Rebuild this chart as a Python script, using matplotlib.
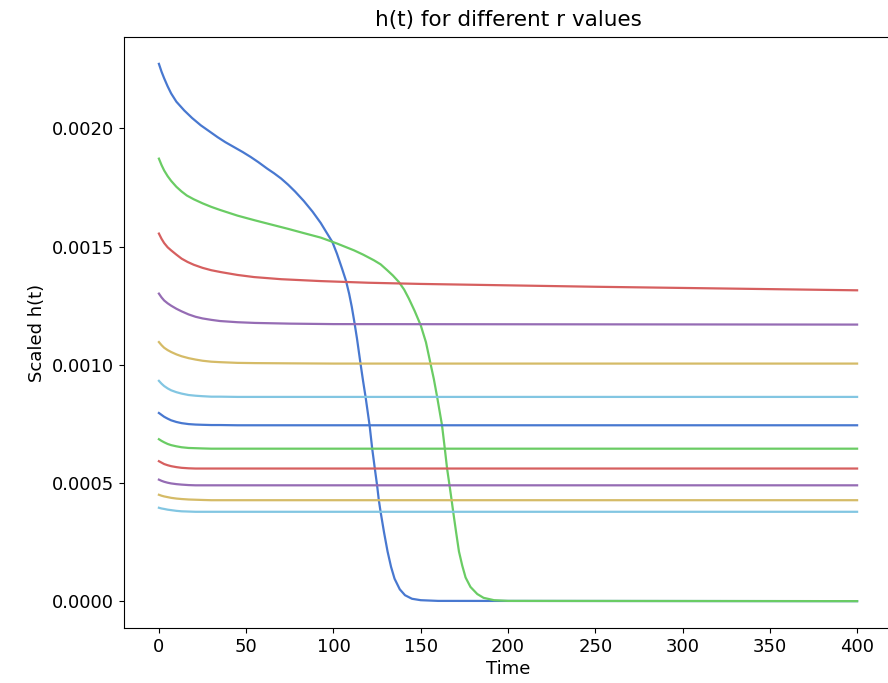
import matplotlib
matplotlib.use("Agg")
import matplotlib.pyplot as plt

# Colours (seaborn "muted" colour codes b, g, r, m, y, c)
colors = ["#4878D0", "#6ACC64", "#D65F5F", "#956CB4", "#D5BB67", "#82C6E2"]

# Series 1 (blue, steep drop ~120)
t1 = [0, 1.5, 3, 5, 7, 10, 14.5, 19, 24, 29, 33.6, 38, 43, 48, 52.6, 57, 62, 66,
      70, 74, 78, 83, 88, 92.7, 96, 99.4, 102, 105, 107.2, 109, 110.5, 112, 113.5,
      115.5, 117, 118.4, 120.7, 122.2, 123.7, 125, 126, 127, 129, 131, 133, 135,
      138, 141, 145, 150, 160, 400]
h1 = [0.002273, 0.002240, 0.002212, 0.002178, 0.002148, 0.002113, 0.002076,
      0.002044, 0.002013, 0.001987, 0.001963, 0.001942, 0.001921, 0.001900,
      0.001879, 0.001857, 0.001830, 0.001810, 0.001788, 0.001762, 0.001733,
      0.001693, 0.001648, 0.001600, 0.001560, 0.001519, 0.001470, 0.001405,
      0.001355, 0.001300, 0.001245, 0.001180, 0.001110, 0.001005, 0.000930,
      0.000864, 0.000744, 0.000645, 0.000561, 0.000490, 0.000427, 0.000378,
      0.000290, 0.000210, 0.000145, 0.000095, 0.000050, 0.000025, 0.000010,
      0.000004, 0.000001, 0.0]

# Series 2 (green, steep drop ~165)
t2 = [0, 1.5, 3, 5, 7, 10, 13, 16, 20, 25, 30, 35, 45, 55, 65, 74, 83, 92.7, 102,
      111.8, 117, 123.2, 127, 130.8, 134, 137.5, 140.5, 143.2, 146.5, 150, 153,
      155.6, 157.5, 159.4, 162.2, 163.8, 165.1, 166.5, 167.7, 168.6, 170.3, 171.9,
      173.8, 175.7, 178.5, 182.4, 186, 192, 200, 400]
h2 = [0.001872, 0.001845, 0.001822, 0.001798, 0.001778, 0.001753, 0.001733,
      0.001716, 0.001700, 0.001683, 0.001668, 0.001655, 0.001631, 0.001611,
      0.001592, 0.001575, 0.001557, 0.001538, 0.001513, 0.001484, 0.001466,
      0.001442, 0.001425, 0.001400, 0.001378, 0.001350, 0.001318, 0.001280,
      0.001228, 0.001167, 0.001095, 0.001005, 0.000940, 0.000864, 0.000744,
      0.000645, 0.000561, 0.000490, 0.000427, 0.000378, 0.000290, 0.000210,
      0.000150, 0.000100, 0.000060, 0.000030, 0.000014, 0.000004, 0.000001, 0.0]

# Series 3 (red, slow decay)
t3 = [0, 1.5, 3, 5, 7, 10, 13, 16.4, 20, 25, 30, 35.5, 45, 54.5, 70, 92.7, 120,
      150, 200, 250, 300, 350, 400]
h3 = [0.001555, 0.001533, 0.001515, 0.001497, 0.001484, 0.001466, 0.001449,
      0.001435, 0.001423, 0.001410, 0.001400, 0.001392, 0.001380, 0.001371,
      0.001362, 0.001354, 0.001347, 0.001342, 0.001336, 0.001330, 0.001325,
      0.001320, 0.001315]

# Flat series share a time grid
t_flat = [0, 1.5, 3, 5, 7, 10, 13, 17, 21, 25, 30, 35, 45, 55, 75, 100, 400]
h4 = [0.001301, 0.001285, 0.001272, 0.001260, 0.001250, 0.001237, 0.001226,
      0.001213, 0.001203, 0.001196, 0.001190, 0.001185, 0.001180, 0.001177,
      0.001174, 0.001172, 0.001170]
h5 = [0.001096, 0.001083, 0.001072, 0.001062, 0.001054, 0.001044, 0.001036,
      0.001028, 0.001022, 0.001017, 0.001013, 0.001011, 0.001008, 0.001007,
      0.001006, 0.001005, 0.001005]
h6 = [0.000932, 0.000920, 0.000910, 0.000900, 0.000892, 0.000884, 0.000878,
      0.000872, 0.000869, 0.000867, 0.000865, 0.000865, 0.000864, 0.000864,
      0.000864, 0.000864, 0.000864]
h7 = [0.000796, 0.000788, 0.000780, 0.000772, 0.000765, 0.000758, 0.000753,
      0.000749, 0.000747, 0.000746, 0.000745, 0.000745, 0.000744, 0.000744,
      0.000744, 0.000744, 0.000744]
h8 = [0.000685, 0.000678, 0.000672, 0.000665, 0.000660, 0.000655, 0.000651,
      0.000648, 0.000647, 0.000646, 0.000645, 0.000645, 0.000645, 0.000645,
      0.000645, 0.000645, 0.000645]
h9 = [0.000592, 0.000586, 0.000580, 0.000575, 0.000571, 0.000567, 0.000564,
      0.000562, 0.000561, 0.000561, 0.000561, 0.000561, 0.000561, 0.000561,
      0.000561, 0.000561, 0.000561]
h10 = [0.000514, 0.000509, 0.000505, 0.000501, 0.000498, 0.000495, 0.000493,
       0.000491, 0.000490, 0.000490, 0.000490, 0.000490, 0.000490, 0.000490,
       0.000490, 0.000490, 0.000490]
h11 = [0.000450, 0.000446, 0.000443, 0.000440, 0.000437, 0.000434, 0.000432,
       0.000430, 0.000429, 0.000428, 0.000427, 0.000427, 0.000427, 0.000427,
       0.000427, 0.000427, 0.000427]
h12 = [0.000395, 0.000392, 0.000390, 0.000387, 0.000385, 0.000382, 0.000380,
       0.000379, 0.000378, 0.000378, 0.000378, 0.000378, 0.000378, 0.000378,
       0.000378, 0.000378, 0.000378]

series = [(t1, h1), (t2, h2), (t3, h3), (t_flat, h4), (t_flat, h5), (t_flat, h6),
          (t_flat, h7), (t_flat, h8), (t_flat, h9), (t_flat, h10), (t_flat, h11),
          (t_flat, h12)]

fig = plt.figure(figsize=(8.88, 6.83), dpi=100)
ax = fig.add_axes([124 / 888, 55 / 683, 768 / 888, 591 / 683])

for i, (t, h) in enumerate(series):
    ax.plot(t, h, color=colors[i % len(colors)], linewidth=1.6)

ax.set_title("h(t) for different r values", fontsize=15.5, pad=8)
ax.set_xlabel("Time", fontsize=13, labelpad=3)
ax.set_ylabel("Scaled h(t)", fontsize=13)
ax.set_xticks([0, 50, 100, 150, 200, 250, 300, 350, 400])
ax.set_yticks([0.0, 0.0005, 0.0010, 0.0015, 0.0020])
ax.set_yticklabels(["0.0000", "0.0005", "0.0010", "0.0015", "0.0020"])
ax.tick_params(labelsize=13)
ax.spines["right"].set_visible(False)

fig.savefig("out.png", dpi=100)
